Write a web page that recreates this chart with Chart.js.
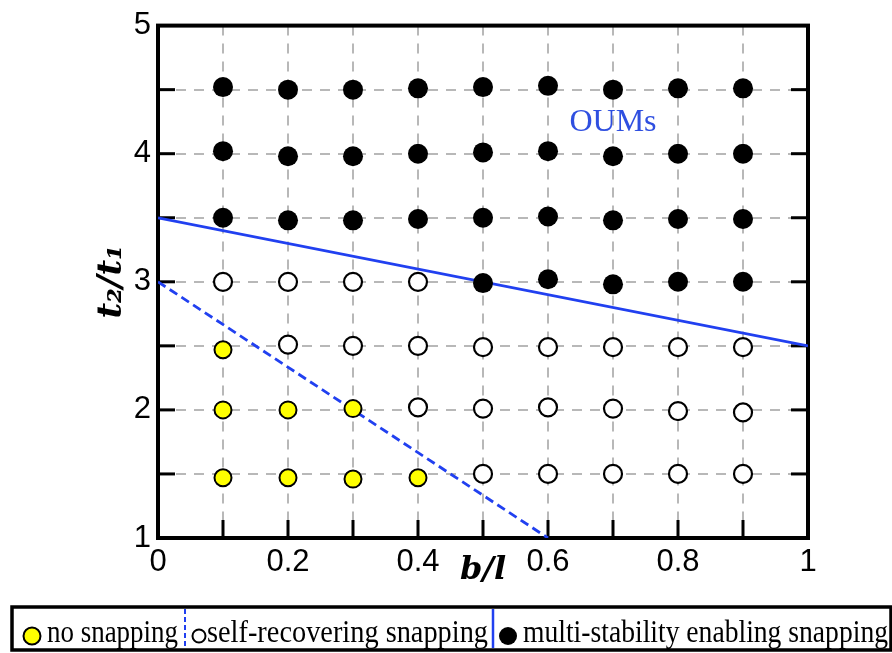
<!DOCTYPE html>
<html><head><meta charset="utf-8">
<script src="https://cdn.jsdelivr.net/npm/chart.js@4.4.1/dist/chart.umd.min.js"></script>
<style>html,body{margin:0;padding:0;background:#fff;}canvas{display:block;}</style>
</head><body>
<canvas id="c" width="892" height="653"></canvas>
<script>
// ---- data ----
const seriesNames = ['no snapping', 'self-recovering snapping', 'multi-stability enabling snapping'];

const noSnapX = [0.1, 0.1, 0.2, 0.3, 0.1, 0.2, 0.3, 0.4];
const noSnapY = [2.47, 2.0, 2.0, 2.01, 1.47, 1.47, 1.46, 1.47];

const selfRecX = [0.1, 0.2, 0.3, 0.4,
                  0.2, 0.3, 0.4, 0.5, 0.6, 0.7, 0.8, 0.9,
                  0.4, 0.5, 0.6, 0.7, 0.8, 0.9,
                  0.5, 0.6, 0.7, 0.8, 0.9];
const selfRecY = [3.0, 3.0, 3.0, 3.0,
                  2.51, 2.5, 2.5, 2.49, 2.49, 2.49, 2.49, 2.49,
                  2.02, 2.01, 2.02, 2.01, 1.99, 1.98,
                  1.5, 1.5, 1.5, 1.5, 1.5];

const multiX = [0.1, 0.2, 0.3, 0.4, 0.5, 0.6, 0.7, 0.8, 0.9,
                0.1, 0.2, 0.3, 0.4, 0.5, 0.6, 0.7, 0.8, 0.9,
                0.1, 0.2, 0.3, 0.4, 0.5, 0.6, 0.7, 0.8, 0.9,
                0.5, 0.6, 0.7, 0.8, 0.9];
const multiY = [4.52, 4.5, 4.5, 4.51, 4.52, 4.53, 4.5, 4.51, 4.51,
                4.02, 3.98, 3.98, 4.0, 4.01, 4.02, 3.98, 4.0, 4.0,
                3.5, 3.48, 3.48, 3.49, 3.5, 3.51, 3.48, 3.49, 3.49,
                2.99, 3.02, 2.98, 3.0, 3.0];

const oumsLineX = [0, 1];
const oumsLineY = [3.5, 2.5];
const recoverLineX = [0, 0.6];
const recoverLineY = [3, 1];

const xTickLabels = ['0', '0.2', '0.4', '0.6', '0.8', '1'];
const yTickLabels = ['1', '2', '3', '4', '5'];
const annotationText = 'OUMs';
const xTitle = 'b/l';
const yTitle = 't\u2082/t\u2081';

const pts = (xs, ys) => xs.map((v, i) => ({x: v, y: ys[i]}));
const BLUE = '#2140f0';

const decor = {
  id: 'decor',
  beforeDatasetsDraw(chart) {
    const {ctx, chartArea: a, scales: {x, y}} = chart;
    ctx.save();
    ctx.strokeStyle = '#000';
    ctx.lineWidth = 3;
    const ln = (x1, y1, x2, y2) => { ctx.beginPath(); ctx.moveTo(x1, y1); ctx.lineTo(x2, y2); ctx.stroke(); };
    y.ticks.forEach(t => {
      if (t.value <= y.min + 1e-6 || t.value >= y.max - 1e-6) return;
      const py = y.getPixelForValue(t.value);
      ln(a.left, py, a.left + 17, py);
      ln(a.right - 17, py, a.right, py);
    });
    x.ticks.forEach(t => {
      if (t.value <= x.min + 1e-6 || t.value >= x.max - 1e-6) return;
      const px = x.getPixelForValue(t.value);
      ln(px, a.bottom, px, a.bottom - 18);
    });
    ctx.lineWidth = 4;
    ctx.lineJoin = 'miter';
    ctx.strokeRect(a.left, a.top, a.right - a.left, a.bottom - a.top);
    ctx.restore();
  },
  afterDatasetsDraw(chart) {
    const {ctx, scales: {x, y}} = chart;
    ctx.save();
    ctx.fillStyle = '#2f4fe0';
    ctx.font = '32px "Liberation Serif", serif';
    ctx.textAlign = 'center';
    ctx.textBaseline = 'middle';
    ctx.fillText(annotationText, x.getPixelForValue(0.70), y.getPixelForValue(4.24));
    ctx.restore();
  },
  afterDraw(chart) {
    const {ctx} = chart;
    const ds = chart.data.datasets;
    ctx.save();
    const L = 12, T = 607, R = 891, B = 650;
    ctx.fillStyle = '#fff';
    ctx.fillRect(L, T, R - L, B - T);
    ctx.strokeStyle = '#000';
    ctx.lineWidth = 3.5;
    ctx.strokeRect(L, T, R - L, B - T);
    const cy = 636;
    const items = [
      {ds: ds[0], cx: 32, r: 8.5, tx: 47, tw: 131},
      {ds: ds[1], cx: 199, r: 6.5, tx: 207, tw: 281},
      {ds: ds[2], cx: 508, r: 9, tx: 523, tw: 365}
    ];
    items.forEach(it => {
      ctx.beginPath();
      ctx.arc(it.cx, cy, it.r, 0, Math.PI * 2);
      ctx.fillStyle = it.ds.backgroundColor;
      ctx.fill();
      if (it.ds.borderWidth > 0) {
        ctx.lineWidth = 2;
        ctx.strokeStyle = it.ds.borderColor;
        ctx.stroke();
      }
      ctx.fillStyle = '#000';
      ctx.font = '31px "Liberation Serif", serif';
      ctx.textAlign = 'left';
      ctx.textBaseline = 'alphabetic';
      ctx.fillText(it.ds.label, it.tx, 642, it.tw);
    });
    // separators
    ctx.strokeStyle = BLUE;
    ctx.lineWidth = 2;
    ctx.setLineDash([5, 3]);
    ctx.beginPath(); ctx.moveTo(185, T + 2); ctx.lineTo(185, B - 2); ctx.stroke();
    ctx.setLineDash([]);
    ctx.lineWidth = 2.5;
    ctx.beginPath(); ctx.moveTo(493, T + 2); ctx.lineTo(493, B - 2); ctx.stroke();
    ctx.restore();
  }
};

const gridColor = (scale) => (c) => {
  const v = c.tick ? c.tick.value : null;
  if (v === null) return 'rgba(0,0,0,0)';
  if (Math.abs(v - scale[0]) < 1e-6 || Math.abs(v - scale[1]) < 1e-6) return 'rgba(0,0,0,0)';
  return '#b8b8b8';
};

new Chart(document.getElementById('c'), {
  type: 'scatter',
  data: {
    datasets: [
      {label: seriesNames[0], data: pts(noSnapX, noSnapY), backgroundColor: '#ffff00', borderColor: '#000', borderWidth: 2, pointRadius: 8.5, pointHoverRadius: 8.5, order: 1},
      {label: seriesNames[1], data: pts(selfRecX, selfRecY), backgroundColor: '#ffffff', borderColor: '#000', borderWidth: 2.2, pointRadius: 9, pointHoverRadius: 9, order: 1},
      {label: seriesNames[2], data: pts(multiX, multiY), backgroundColor: '#000000', borderColor: '#000', borderWidth: 0, pointRadius: 10, pointHoverRadius: 10, order: 1},
      {label: 'OUMs boundary', type: 'line', data: pts(oumsLineX, oumsLineY), borderColor: BLUE, borderWidth: 2.8, pointRadius: 0, fill: false, order: 2},
      {label: 'recovering boundary', type: 'line', data: pts(recoverLineX, recoverLineY), borderColor: BLUE, borderWidth: 2.8, borderDash: [9, 5], pointRadius: 0, fill: false, order: 2}
    ]
  },
  options: {
    responsive: false,
    animation: false,
    devicePixelRatio: 1,
    layout: {padding: {left: 0, right: 84, top: 19, bottom: 63}},
    plugins: {legend: {display: false}, tooltip: {enabled: false}},
    scales: {
      x: {
        type: 'linear', position: 'bottom', min: 0, max: 1,
        afterFit: (s) => { s.height = 52; },
        ticks: {
          stepSize: 0.1, autoSkip: false, maxRotation: 0, padding: 6,
          color: '#000', font: {family: '"Liberation Sans", Arial, sans-serif', size: 31},
          callback: (v) => { const lab = String(Math.round(v * 10) / 10); return xTickLabels.includes(lab) ? lab : ''; }
        },
        grid: {drawTicks: false, lineWidth: 2, color: gridColor([0, 1])},
        border: {display: false, dash: [10, 8]},
        title: {display: true, text: xTitle, color: '#000', padding: {top: 0, bottom: 0},
                font: {family: '"DejaVu Serif", serif', size: 32, style: 'italic', weight: 'bold'}}
      },
      y: {
        type: 'linear', position: 'left', min: 1, max: 5,
        afterFit: (s) => { s.width = 158; },
        ticks: {
          stepSize: 0.5, autoSkip: false, padding: 7,
          color: '#000', font: {family: '"Liberation Sans", Arial, sans-serif', size: 31},
          callback: (v) => { const lab = String(Math.round(v * 2) / 2); return yTickLabels.includes(lab) ? lab : ''; }
        },
        grid: {drawTicks: false, lineWidth: 2, color: gridColor([1, 5])},
        border: {display: false, dash: [10, 8]},
        title: {display: true, text: yTitle, color: '#000', padding: {top: 92, bottom: 0},
                font: {family: '"DejaVu Serif", serif', size: 34, style: 'italic', weight: 'bold'}}
      }
    }
  },
  plugins: [decor]
});
</script>
</body></html>
